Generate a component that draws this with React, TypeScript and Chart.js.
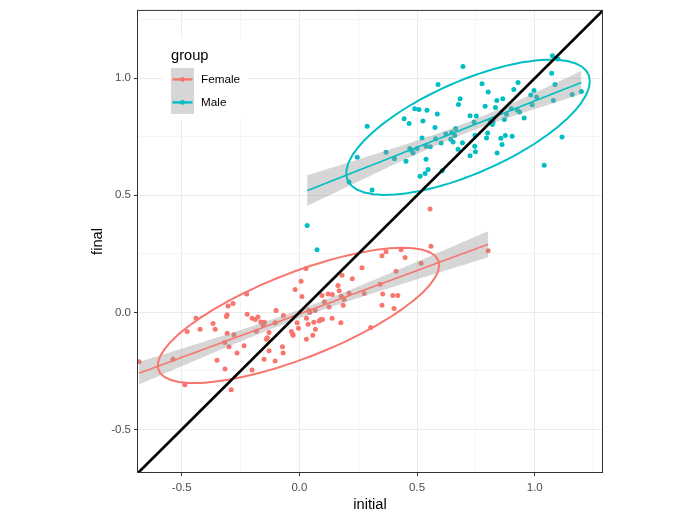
import React, { useEffect, useRef } from 'react';
import { Chart, registerables } from 'chart.js';

Chart.register(...registerables);

const GROUPS = ['Female', 'Male'];
const GROUP_COLORS = ['#F8766D', '#00BFC4'];

const FEMALE_X = [
  -0.681, -0.537, -0.487, -0.477, -0.439, -0.422, -0.367, -0.358, -0.350, -0.316,
  -0.317, -0.310, -0.307, -0.307, -0.303, -0.299, -0.282, -0.278, -0.290, -0.265,
  -0.235, -0.224, -0.222, -0.201, -0.201, -0.187, -0.176, -0.183, -0.164, -0.154,
  -0.149, -0.150, -0.140, -0.136, -0.129, -0.129, -0.103, -0.103, -0.099, -0.072,
  -0.069, -0.068, -0.034, -0.028, -0.027, -0.018, -0.010, -0.004, 0.007, 0.011,
  0.028, 0.030, 0.030, 0.037, 0.040, 0.044, 0.057, 0.061, 0.068, 0.067,
  0.084, 0.091, 0.098, 0.096, 0.106, 0.122, 0.126, 0.139, 0.140, 0.164,
  0.169, 0.176, 0.178, 0.181, 0.186, 0.190, 0.211, 0.225, 0.266, 0.275,
  0.303, 0.343, 0.351, 0.351, 0.354, 0.368, 0.397, 0.402, 0.411, 0.418,
  0.432, 0.449, 0.517, 0.555, 0.559, 0.802,
];
const FEMALE_Y = [
  -0.211, -0.200, -0.309, -0.082, -0.025, -0.072, -0.047, -0.072, -0.204, -0.242,
  -0.129, -0.018, -0.010, -0.089, 0.027, -0.147, 0.038, -0.096, -0.330, -0.173,
  -0.143, 0.079, -0.008, -0.246, -0.025, -0.030, -0.020, -0.081, -0.041, -0.054,
  -0.042, -0.200, -0.115, -0.108, -0.164, -0.086, -0.044, -0.208, 0.008, -0.147,
  -0.173, -0.013, -0.082, -0.093, -0.098, 0.098, -0.044, -0.068, 0.133, 0.068,
  0.187, -0.025, -0.115, -0.051, 0.008, 0.000, -0.098, -0.042, -0.072, 0.008,
  -0.037, -0.030, -0.030, 0.072, 0.045, 0.079, 0.023, -0.025, 0.076, 0.115,
  0.092, -0.044, 0.069, 0.159, 0.030, 0.055, 0.082, 0.144, 0.191, 0.081,
  -0.065, 0.120, 0.242, 0.030, 0.079, 0.259, 0.072, 0.017, 0.176, 0.072,
  0.268, 0.234, 0.210, 0.442, 0.283, 0.263,
];

const MALE_X = [
  0.033, 0.075, 0.211, 0.246, 0.288, 0.309, 0.368, 0.404, 0.445, 0.453,
  0.466, 0.469, 0.476, 0.483, 0.500, 0.490, 0.508, 0.513, 0.521, 0.525,
  0.534, 0.538, 0.538, 0.542, 0.547, 0.556, 0.576, 0.579, 0.586, 0.589,
  0.602, 0.607, 0.622, 0.643, 0.647, 0.653, 0.664, 0.660, 0.674, 0.676,
  0.683, 0.693, 0.695, 0.725, 0.725, 0.742, 0.746, 0.745, 0.748, 0.752,
  0.776, 0.789, 0.795, 0.800, 0.802, 0.810, 0.820, 0.823, 0.833, 0.839,
  0.840, 0.856, 0.861, 0.864, 0.871, 0.875, 0.880, 0.901, 0.904, 0.911,
  0.926, 0.929, 0.936, 0.955, 0.983, 0.989, 0.997, 1.008, 1.040, 1.072,
  1.075, 1.079, 1.086, 1.099, 1.116, 1.159, 1.198,
];
const MALE_Y = [
  0.371, 0.268, 0.557, 0.663, 0.795, 0.523, 0.684, 0.656, 0.827, 0.646,
  0.807, 0.700, 0.693, 0.681, 0.700, 0.870, 0.867, 0.581, 0.745, 0.817,
  0.593, 0.654, 0.710, 0.863, 0.610, 0.707, 0.790, 0.742, 0.847, 0.973,
  0.724, 0.605, 0.762, 0.739, 0.768, 0.728, 0.785, 0.756, 0.697, 0.888,
  0.912, 0.725, 1.050, 0.840, 0.669, 0.813, 0.756, 0.710, 0.686, 0.839,
  0.977, 0.881, 0.745, 0.766, 0.941, 0.817, 0.802, 0.813, 0.875, 0.905,
  0.681, 0.744, 0.717, 0.912, 0.824, 0.756, 0.846, 0.870, 0.752, 0.952,
  0.863, 0.982, 0.856, 0.830, 0.929, 0.887, 0.948, 0.919, 0.629, 1.021,
  1.096, 0.905, 0.973, 1.082, 0.749, 0.931, 0.943,
];

const X_TICKS = [-0.5, -0.25, 0, 0.25, 0.5, 0.75, 1, 1.25];
const Y_TICKS = [-0.5, -0.25, 0, 0.25, 0.5, 0.75, 1, 1.25];
const MAJOR_TICKS = [-0.5, 0, 0.5, 1];
const X_LIMITS = [-0.69, 1.29];
const Y_LIMITS = [-0.686, 1.292];
const ABLINE = { intercept: 0, slope: 1 };
const LEVEL = 0.95;

const FONT = '"Liberation Sans", Arial, Helvetica, sans-serif';
const BAND_FILL = 'rgba(153,153,153,0.4)';

const sum = (a: number[]) => a.reduce((s, v) => s + v, 0);
const mean = (a: number[]) => sum(a) / a.length;

// lm fit with 95% confidence band (like geom_smooth(method = "lm"))
function smoothFit(xs: number[], ys: number[]) {
  const n = xs.length;
  const mx = mean(xs), my = mean(ys);
  let sxx = 0, sxy = 0;
  for (let i = 0; i < n; i++) {
    sxx += (xs[i] - mx) ** 2;
    sxy += (xs[i] - mx) * (ys[i] - my);
  }
  const b = sxy / sxx;
  const a = my - b * mx;
  let rss = 0;
  for (let i = 0; i < n; i++) rss += (ys[i] - a - b * xs[i]) ** 2;
  const df = n - 2;
  const s = Math.sqrt(rss / df);
  const z = 1.959964;
  const t = z + (z ** 3 + z) / (4 * df) + (5 * z ** 5 + 16 * z ** 3 + 3 * z) / (96 * df * df);
  const lo = Math.min(...xs), hi = Math.max(...xs);
  const line: { x: number; y: number }[] = [];
  const upper: { x: number; y: number }[] = [];
  const lower: { x: number; y: number }[] = [];
  for (let k = 0; k < 80; k++) {
    const x = lo + ((hi - lo) * k) / 79;
    const y = a + b * x;
    const se = s * Math.sqrt(1 / n + (x - mx) ** 2 / sxx);
    line.push({ x, y });
    upper.push({ x, y: y + t * se });
    lower.push({ x, y: y - t * se });
  }
  return { line, upper, lower };
}

// stat_ellipse(type = "t"): MASS::cov.trob + F-quantile radius
function ellipse(xs: number[], ys: number[]) {
  const n = xs.length, p = 2, nu = 5;
  let lx = mean(xs), ly = mean(ys);
  let w = new Array(n).fill(1);
  let dx: number[] = [], dy: number[] = [];
  for (let iter = 0; iter < 25; iter++) {
    const w0 = w.slice();
    dx = xs.map((v) => v - lx);
    dy = ys.map((v) => v - ly);
    const sw = sum(w);
    let a = 0, b = 0, c = 0;
    for (let i = 0; i < n; i++) {
      a += (w[i] * dx[i] * dx[i]) / sw;
      b += (w[i] * dx[i] * dy[i]) / sw;
      c += (w[i] * dy[i] * dy[i]) / sw;
    }
    const det = a * c - b * b;
    w = dx.map((_, i) => {
      const q = (c * dx[i] * dx[i] - 2 * b * dx[i] * dy[i] + a * dy[i] * dy[i]) / det;
      return (nu + p) / (nu + q);
    });
    const sw2 = sum(w);
    lx = sum(xs.map((v, i) => v * w[i])) / sw2;
    ly = sum(ys.map((v, i) => v * w[i])) / sw2;
    if (w.every((v, i) => Math.abs(v - w0[i]) < 0.01)) break;
  }
  let cxx = 0, cxy = 0, cyy = 0;
  for (let i = 0; i < n; i++) {
    cxx += w[i] * dx[i] * dx[i];
    cxy += w[i] * dx[i] * dy[i];
    cyy += w[i] * dy[i] * dy[i];
  }
  cxx /= n; cxy /= n; cyy /= n;
  const r11 = Math.sqrt(cxx);
  const r12 = cxy / r11;
  const r22 = Math.sqrt(cyy - r12 * r12);
  const d = n - 1;
  const qf = (d / 2) * (Math.pow(1 - LEVEL, -2 / d) - 1);
  const radius = Math.sqrt(2 * qf);
  const pts: { x: number; y: number }[] = [];
  const segments = 51;
  for (let k = 0; k <= segments; k++) {
    const ang = (k * 2 * Math.PI) / segments;
    const u = Math.cos(ang), v = Math.sin(ang);
    pts.push({ x: lx + radius * u * r11, y: ly + radius * (u * r12 + v * r22) });
  }
  return pts;
}

const isMajor = (v: number) => MAJOR_TICKS.some((m) => Math.abs(m - v) < 1e-9);

const panelAndLegend = {
  id: 'panelAndLegend',
  afterDraw(chart: any) {
    const { ctx, chartArea } = chart;
    const { left, top, right, bottom } = chartArea;
    ctx.save();
    // panel border
    ctx.strokeStyle = '#333333';
    ctx.lineWidth = 1;
    ctx.strokeRect(left + 0.5, top + 0.5, right - left - 1, bottom - top - 1);

    // legend
    const lx = left + 26, ly = top + 28;
    ctx.fillStyle = '#FFFFFF';
    ctx.fillRect(lx, ly, 85, 82);
    ctx.fillStyle = '#000000';
    ctx.font = `14.67px ${FONT}`;
    ctx.textBaseline = 'alphabetic';
    ctx.textAlign = 'left';
    ctx.fillText('group', lx + 8, ly + 22);
    const keyX = lx + 8, keyY = ly + 30, keyW = 23, keyH = 23;
    GROUPS.forEach((g, i) => {
      const ky = keyY + i * keyH;
      ctx.fillStyle = BAND_FILL;
      ctx.fillRect(keyX, ky, keyW, keyH);
      const cy = ky + keyH / 2;
      ctx.strokeStyle = GROUP_COLORS[i];
      ctx.lineWidth = 2.4;
      ctx.beginPath();
      ctx.moveTo(keyX + 1.5, cy);
      ctx.lineTo(keyX + keyW - 1.5, cy);
      ctx.stroke();
      ctx.fillStyle = GROUP_COLORS[i];
      ctx.beginPath();
      ctx.arc(keyX + keyW / 2, cy, 2.4, 0, Math.PI * 2);
      ctx.fill();
      ctx.fillStyle = '#000000';
      ctx.font = `11.73px ${FONT}`;
      ctx.textBaseline = 'middle';
      ctx.fillText(g, keyX + keyW + 7, cy);
    });
    ctx.restore();
  },
};

export default function App() {
  const canvasRef = useRef<HTMLCanvasElement | null>(null);

  useEffect(() => {
    const canvas = canvasRef.current;
    if (!canvas) return;

    const fFit = smoothFit(FEMALE_X, FEMALE_Y);
    const mFit = smoothFit(MALE_X, MALE_Y);
    const fEll = ellipse(FEMALE_X, FEMALE_Y);
    const mEll = ellipse(MALE_X, MALE_Y);
    const ab = [
      { x: X_LIMITS[0] - 1, y: ABLINE.intercept + ABLINE.slope * (X_LIMITS[0] - 1) },
      { x: X_LIMITS[1] + 1, y: ABLINE.intercept + ABLINE.slope * (X_LIMITS[1] + 1) },
    ];

    const lineDs = (data: any, color: string, width: number, order: number, extra: any = {}) => ({
      type: 'line',
      data,
      borderColor: color,
      borderWidth: width,
      pointRadius: 0,
      pointHoverRadius: 0,
      fill: false,
      order,
      clip: 0,
      tension: 0,
      ...extra,
    });

    const pts = (xs: number[], ys: number[]) => xs.map((x, i) => ({ x, y: ys[i] }));

    const datasets: any[] = [
      lineDs(ab, '#000000', 2.7, 0), // 0
      lineDs(fEll, GROUP_COLORS[0], 2, 1, { tension: 0.0001 }), // 1
      lineDs(mEll, GROUP_COLORS[1], 2, 1, { tension: 0.0001 }), // 2
      lineDs(fFit.line, GROUP_COLORS[0], 1.6, 2), // 3
      lineDs(mFit.line, GROUP_COLORS[1], 1.6, 2), // 4
      lineDs(fFit.upper, 'rgba(0,0,0,0)', 1, 3), // 5
      lineDs(fFit.lower, 'rgba(0,0,0,0)', 1, 3, { fill: 5, backgroundColor: BAND_FILL }), // 6
      lineDs(mFit.upper, 'rgba(0,0,0,0)', 1, 3), // 7
      lineDs(mFit.lower, 'rgba(0,0,0,0)', 1, 3, { fill: 7, backgroundColor: BAND_FILL }), // 8
      {
        type: 'scatter',
        data: pts(FEMALE_X, FEMALE_Y),
        pointRadius: 2.5,
        pointBackgroundColor: GROUP_COLORS[0],
        pointBorderColor: GROUP_COLORS[0],
        pointBorderWidth: 0,
        order: 4,
      },
      {
        type: 'scatter',
        data: pts(MALE_X, MALE_Y),
        pointRadius: 2.5,
        pointBackgroundColor: GROUP_COLORS[1],
        pointBorderColor: GROUP_COLORS[1],
        pointBorderWidth: 0,
        order: 4,
      },
    ];

    const axis = (ticksArr: number[], limits: number[], title: string, isX: boolean) => ({
      type: 'linear',
      min: limits[0],
      max: limits[1],
      bounds: 'data',
      afterBuildTicks: (s: any) => {
        s.ticks = ticksArr.map((v) => ({ value: v }));
      },
      afterFit: (s: any) => {
        if (isX) s.height = 45;
        else s.width = 137;
      },
      ticks: {
        autoSkip: false,
        maxRotation: 0,
        minRotation: 0,
        padding: isX ? 5 : 3,
        color: '#4D4D4D',
        font: { family: FONT, size: 11.5 },
        callback: (v: any) => (isMajor(Number(v)) ? Number(v).toFixed(1) : ''),
      },
      grid: {
        color: (c: any) => (c.tick && isMajor(c.tick.value) ? '#EBEBEB' : '#F4F4F4'),
        lineWidth: 1,
        tickLength: 3,
        tickWidth: 1,
        tickColor: (c: any) => (c.tick && isMajor(c.tick.value) ? '#333333' : 'rgba(0,0,0,0)'),
        drawOnChartArea: true,
        drawTicks: true,
      },
      border: { display: false },
      title: {
        display: true,
        text: title,
        color: '#000000',
        font: { family: FONT, size: 14.67 },
        padding: isX ? { top: 0, bottom: 4 } : { top: 89, bottom: 0 },
      },
    });

    const chart = new Chart(canvas, {
      type: 'scatter',
      data: { datasets },
      options: {
        animation: false,
        responsive: false,
        events: [],
        layout: { padding: { left: 0, right: 92, top: 7, bottom: 0 } },
        plugins: {
          legend: { display: false },
          tooltip: { enabled: false },
        },
        scales: {
          x: axis(X_TICKS, X_LIMITS, 'initial', true),
          y: axis(Y_TICKS, Y_LIMITS, 'final', false),
        },
      } as any,
      plugins: [panelAndLegend],
    } as any);

    return () => chart.destroy();
  }, []);

  return (
    <div style={{ position: 'fixed', left: 0, top: 0, width: 695, height: 518, background: '#fff' }}>
      <canvas ref={canvasRef} width={695} height={518} style={{ display: 'block', width: 695, height: 518 }} />
    </div>
  );
}
